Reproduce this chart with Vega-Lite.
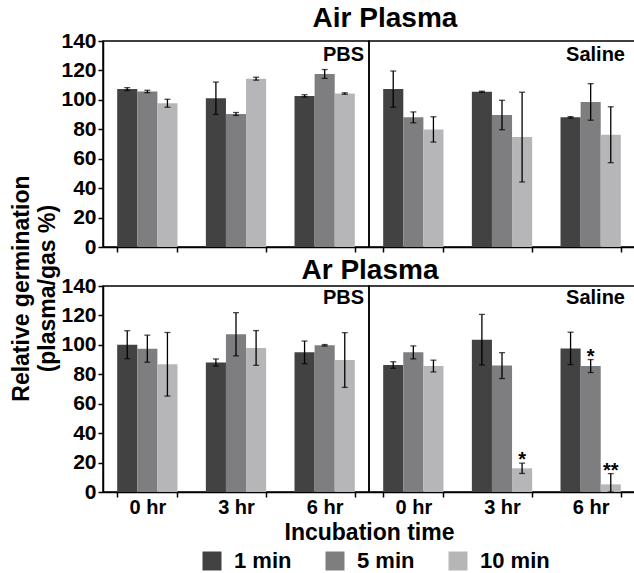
{
  "$schema": "https://vega.github.io/schema/vega-lite/v6.json",
  "padding": {"left": 10, "top": 5, "right": 0, "bottom": 0},
  "background": "white",
  "data": {"values": [
    {"gas":"Air","medium":"PBS","time":"0 hr","dur":"1 min","mean":107.3,"lo":106.3,"hi":108.3},
    {"gas":"Air","medium":"PBS","time":"0 hr","dur":"5 min","mean":105.7,"lo":104.9,"hi":106.5},
    {"gas":"Air","medium":"PBS","time":"0 hr","dur":"10 min","mean":97.7,"lo":95.0,"hi":100.4},
    {"gas":"Air","medium":"PBS","time":"3 hr","dur":"1 min","mean":101.1,"lo":90.1,"hi":112.1},
    {"gas":"Air","medium":"PBS","time":"3 hr","dur":"5 min","mean":90.4,"lo":89.4,"hi":91.4},
    {"gas":"Air","medium":"PBS","time":"3 hr","dur":"10 min","mean":114.4,"lo":113.4,"hi":115.4},
    {"gas":"Air","medium":"PBS","time":"6 hr","dur":"1 min","mean":102.7,"lo":101.9,"hi":103.5},
    {"gas":"Air","medium":"PBS","time":"6 hr","dur":"5 min","mean":117.6,"lo":114.6,"hi":120.6},
    {"gas":"Air","medium":"PBS","time":"6 hr","dur":"10 min","mean":104.3,"lo":103.8,"hi":104.8},
    {"gas":"Air","medium":"Saline","time":"0 hr","dur":"1 min","mean":107.3,"lo":95.0,"hi":119.6},
    {"gas":"Air","medium":"Saline","time":"0 hr","dur":"5 min","mean":88.1,"lo":84.4,"hi":91.8},
    {"gas":"Air","medium":"Saline","time":"0 hr","dur":"10 min","mean":79.9,"lo":71.3,"hi":88.5},
    {"gas":"Air","medium":"Saline","time":"3 hr","dur":"1 min","mean":105.5,"lo":105.1,"hi":105.9},
    {"gas":"Air","medium":"Saline","time":"3 hr","dur":"5 min","mean":89.7,"lo":79.7,"hi":99.7},
    {"gas":"Air","medium":"Saline","time":"3 hr","dur":"10 min","mean":74.7,"lo":44.2,"hi":105.2},
    {"gas":"Air","medium":"Saline","time":"6 hr","dur":"1 min","mean":88.1,"lo":87.6,"hi":88.6},
    {"gas":"Air","medium":"Saline","time":"6 hr","dur":"5 min","mean":98.6,"lo":86.2,"hi":111.0},
    {"gas":"Air","medium":"Saline","time":"6 hr","dur":"10 min","mean":76.3,"lo":57.3,"hi":95.3},
    {"gas":"Ar","medium":"PBS","time":"0 hr","dur":"1 min","mean":100.1,"lo":90.6,"hi":109.6},
    {"gas":"Ar","medium":"PBS","time":"0 hr","dur":"5 min","mean":97.4,"lo":88.2,"hi":106.6},
    {"gas":"Ar","medium":"PBS","time":"0 hr","dur":"10 min","mean":86.8,"lo":65.2,"hi":108.4},
    {"gas":"Ar","medium":"PBS","time":"3 hr","dur":"1 min","mean":88.0,"lo":85.6,"hi":90.4},
    {"gas":"Ar","medium":"PBS","time":"3 hr","dur":"5 min","mean":107.2,"lo":92.5,"hi":121.9},
    {"gas":"Ar","medium":"PBS","time":"3 hr","dur":"10 min","mean":97.9,"lo":86.1,"hi":109.7},
    {"gas":"Ar","medium":"PBS","time":"6 hr","dur":"1 min","mean":94.9,"lo":87.2,"hi":102.6},
    {"gas":"Ar","medium":"PBS","time":"6 hr","dur":"5 min","mean":99.7,"lo":99.2,"hi":100.2},
    {"gas":"Ar","medium":"PBS","time":"6 hr","dur":"10 min","mean":89.7,"lo":71.1,"hi":108.3},
    {"gas":"Ar","medium":"Saline","time":"0 hr","dur":"1 min","mean":86.3,"lo":84.1,"hi":88.5},
    {"gas":"Ar","medium":"Saline","time":"0 hr","dur":"5 min","mean":94.9,"lo":90.5,"hi":99.3},
    {"gas":"Ar","medium":"Saline","time":"0 hr","dur":"10 min","mean":85.6,"lo":81.6,"hi":89.6},
    {"gas":"Ar","medium":"Saline","time":"3 hr","dur":"1 min","mean":103.5,"lo":86.3,"hi":120.7},
    {"gas":"Ar","medium":"Saline","time":"3 hr","dur":"5 min","mean":85.9,"lo":77.1,"hi":94.7},
    {"gas":"Ar","medium":"Saline","time":"3 hr","dur":"10 min","mean":16.1,"lo":12.6,"hi":19.6,"sig":"*"},
    {"gas":"Ar","medium":"Saline","time":"6 hr","dur":"1 min","mean":97.6,"lo":86.6,"hi":108.6},
    {"gas":"Ar","medium":"Saline","time":"6 hr","dur":"5 min","mean":85.6,"lo":81.2,"hi":90.0,"sig":"*"},
    {"gas":"Ar","medium":"Saline","time":"6 hr","dur":"10 min","mean":5.2,"lo":0,"hi":12.5,"sig":"**"}
  ]},
  "title": {"text": ["Relative germination", "(plasma/gas %)"], "orient": "left", "anchor": "middle", "fontSize": 23, "fontWeight": "bold", "lineHeight": 26.5, "offset": 0, "color": "black"},
  "spacing": -1,
  "vconcat": [
    {
      "title": {"text": "Air Plasma", "anchor": "middle", "offset": -4, "fontSize": 28, "dx": 37},
      "bounds": "flush",
      "spacing": 0,
      "hconcat": [
        {
          "width": 266, "height": 206,
          "title": {"text": "PBS", "frame": "group", "anchor": "end", "offset": -35, "dx": -5, "fontSize": 20},
          "transform": [{"filter": "datum.gas == 'Air' && datum.medium == 'PBS'"}],
          "encoding": {
            "x": {"field": "time", "type": "nominal", "sort": ["0 hr","3 hr","6 hr"], "scale": {"paddingInner": 0.32, "paddingOuter": 0.16}, "axis": {"labels": false, "title": null, "tickBand": "extent", "tickSize": 5}},
            "xOffset": {"field": "dur", "type": "nominal", "sort": ["1 min","5 min","10 min"], "scale": {"paddingInner": 0, "paddingOuter": 0}}
          },
          "layer": [
            {"mark": "bar", "encoding": {
              "y": {"field": "mean", "type": "quantitative", "scale": {"domain": [0, 140]}, "axis": {"values": [0,20,40,60,80,100,120,140], "labelOverlap": false, "title": null, "tickSize": 5, "labelPadding": 2}},
              "color": {"field": "dur", "type": "nominal", "sort": ["1 min","5 min","10 min"], "scale": {"domain": ["1 min","5 min","10 min"], "range": ["#424242","#7e7e80","#b6b6b8"]}, "legend": {"orient": "none", "legendX": 98, "legendY": 509, "direction": "horizontal", "title": null}}
            }},
            {"mark": {"type": "rule", "color": "black", "strokeWidth": 1.3}, "encoding": {"y": {"field": "lo", "type": "quantitative", "axis": {"values": [0,20,40,60,80,100,120,140], "labelOverlap": false, "title": null, "tickSize": 5, "labelPadding": 2}}, "y2": {"field": "hi"}}},
            {"mark": {"type": "tick", "orient": "horizontal", "color": "black", "size": 6, "thickness": 1.3}, "encoding": {"y": {"field": "hi", "type": "quantitative", "axis": {"values": [0,20,40,60,80,100,120,140], "labelOverlap": false, "title": null, "tickSize": 5, "labelPadding": 2}}}},
            {"mark": {"type": "tick", "orient": "horizontal", "color": "black", "size": 6, "thickness": 1.3}, "encoding": {"y": {"field": "lo", "type": "quantitative", "axis": {"values": [0,20,40,60,80,100,120,140], "labelOverlap": false, "title": null, "tickSize": 5, "labelPadding": 2}}}}
          ]
        },
        {
          "width": 266, "height": 206,
          "title": {"text": "Saline", "frame": "group", "anchor": "end", "offset": -24, "dx": -10, "fontSize": 20},
          "transform": [{"filter": "datum.gas == 'Air' && datum.medium == 'Saline'"}],
          "encoding": {
            "x": {"field": "time", "type": "nominal", "sort": ["0 hr","3 hr","6 hr"], "scale": {"paddingInner": 0.32, "paddingOuter": 0.16}, "axis": {"labels": false, "title": null, "tickBand": "extent", "tickSize": 5}},
            "xOffset": {"field": "dur", "type": "nominal", "sort": ["1 min","5 min","10 min"], "scale": {"paddingInner": 0, "paddingOuter": 0}}
          },
          "layer": [
            {"mark": "bar", "encoding": {
              "y": {"field": "mean", "type": "quantitative", "scale": {"domain": [0, 140]}, "axis": null},
              "color": {"field": "dur", "type": "nominal", "sort": ["1 min","5 min","10 min"], "scale": {"domain": ["1 min","5 min","10 min"], "range": ["#424242","#7e7e80","#b6b6b8"]}, "legend": {"orient": "none", "legendX": 98, "legendY": 509, "direction": "horizontal", "title": null}}
            }},
            {"mark": {"type": "rule", "color": "black", "strokeWidth": 1.3}, "encoding": {"y": {"field": "lo", "type": "quantitative", "axis": null}, "y2": {"field": "hi"}}},
            {"mark": {"type": "tick", "orient": "horizontal", "color": "black", "size": 6, "thickness": 1.3}, "encoding": {"y": {"field": "hi", "type": "quantitative", "axis": null}}},
            {"mark": {"type": "tick", "orient": "horizontal", "color": "black", "size": 6, "thickness": 1.3}, "encoding": {"y": {"field": "lo", "type": "quantitative", "axis": null}}}
          ]
        }
      ]
    },
    {
      "title": {"text": "Ar Plasma", "anchor": "middle", "offset": -11, "fontSize": 28, "dx": 22},
      "bounds": "flush",
      "spacing": 0,
      "hconcat": [
        {
          "width": 266, "height": 206,
          "title": {"text": "PBS", "frame": "group", "anchor": "end", "offset": -33, "dx": -5, "fontSize": 20},
          "transform": [{"filter": "datum.gas == 'Ar' && datum.medium == 'PBS'"}],
          "encoding": {
            "x": {"field": "time", "type": "nominal", "sort": ["0 hr","3 hr","6 hr"], "scale": {"paddingInner": 0.32, "paddingOuter": 0.16}, "axis": {"labelAngle": 0, "title": null, "tickBand": "extent", "tickSize": 5, "labelPadding": 0}},
            "xOffset": {"field": "dur", "type": "nominal", "sort": ["1 min","5 min","10 min"], "scale": {"paddingInner": 0, "paddingOuter": 0}}
          },
          "layer": [
            {"mark": "bar", "encoding": {
              "y": {"field": "mean", "type": "quantitative", "scale": {"domain": [0, 140]}, "axis": {"values": [0,20,40,60,80,100,120,140], "labelOverlap": false, "title": null, "tickSize": 5, "labelPadding": 2}},
              "color": {"field": "dur", "type": "nominal", "sort": ["1 min","5 min","10 min"], "scale": {"domain": ["1 min","5 min","10 min"], "range": ["#424242","#7e7e80","#b6b6b8"]}, "legend": {"orient": "none", "legendX": 98, "legendY": 509, "direction": "horizontal", "title": null}}
            }},
            {"mark": {"type": "rule", "color": "black", "strokeWidth": 1.3}, "encoding": {"y": {"field": "lo", "type": "quantitative", "axis": {"values": [0,20,40,60,80,100,120,140], "labelOverlap": false, "title": null, "tickSize": 5, "labelPadding": 2}}, "y2": {"field": "hi"}}},
            {"mark": {"type": "tick", "orient": "horizontal", "color": "black", "size": 6, "thickness": 1.3}, "encoding": {"y": {"field": "hi", "type": "quantitative", "axis": {"values": [0,20,40,60,80,100,120,140], "labelOverlap": false, "title": null, "tickSize": 5, "labelPadding": 2}}}},
            {"mark": {"type": "tick", "orient": "horizontal", "color": "black", "size": 6, "thickness": 1.3}, "encoding": {"y": {"field": "lo", "type": "quantitative", "axis": {"values": [0,20,40,60,80,100,120,140], "labelOverlap": false, "title": null, "tickSize": 5, "labelPadding": 2}}}}
          ]
        },
        {
          "width": 266, "height": 206,
          "title": {"text": "Saline", "frame": "group", "anchor": "end", "offset": -22, "dx": -10, "fontSize": 20},
          "transform": [{"filter": "datum.gas == 'Ar' && datum.medium == 'Saline'"}],
          "encoding": {
            "x": {"field": "time", "type": "nominal", "sort": ["0 hr","3 hr","6 hr"], "scale": {"paddingInner": 0.32, "paddingOuter": 0.16}, "axis": {"labelAngle": 0, "title": "Incubation time", "titleX": 0, "titleAlign": "center", "titleBaseline": "alphabetic", "titleY": 47, "tickBand": "extent", "tickSize": 5, "labelPadding": 0}},
            "xOffset": {"field": "dur", "type": "nominal", "sort": ["1 min","5 min","10 min"], "scale": {"paddingInner": 0, "paddingOuter": 0}}
          },
          "layer": [
            {"mark": "bar", "encoding": {
              "y": {"field": "mean", "type": "quantitative", "scale": {"domain": [0, 140]}, "axis": null},
              "color": {"field": "dur", "type": "nominal", "sort": ["1 min","5 min","10 min"], "scale": {"domain": ["1 min","5 min","10 min"], "range": ["#424242","#7e7e80","#b6b6b8"]}, "legend": {"orient": "none", "legendX": 98, "legendY": 509, "direction": "horizontal", "title": null}}
            }},
            {"mark": {"type": "rule", "color": "black", "strokeWidth": 1.3}, "encoding": {"y": {"field": "lo", "type": "quantitative", "axis": null}, "y2": {"field": "hi"}}},
            {"mark": {"type": "tick", "orient": "horizontal", "color": "black", "size": 6, "thickness": 1.3}, "encoding": {"y": {"field": "hi", "type": "quantitative", "axis": null}}},
            {"mark": {"type": "tick", "orient": "horizontal", "color": "black", "size": 6, "thickness": 1.3}, "encoding": {"y": {"field": "lo", "type": "quantitative", "axis": null}}},
            {"transform": [{"filter": "datum.sig"}], "mark": {"type": "text", "fontSize": 20, "fontWeight": "bold", "color": "black", "baseline": "alphabetic", "dy": 3}, "encoding": {"y": {"field": "hi", "type": "quantitative", "axis": null}, "text": {"field": "sig"}}}
          ]
        }
      ]
    }
  ],
  "config": {
    "font": "Liberation Sans",
    "view": {"stroke": "black", "strokeWidth": 1.5},
    "axis": {"labelFontWeight": "bold", "labelFontSize": 20, "labelColor": "black", "domainColor": "black", "tickColor": "black", "domainWidth": 1.5, "tickWidth": 1.5, "grid": false, "titleFontWeight": "bold", "titleFontSize": 23, "titleColor": "black"},
    "axisY": {"labelFontSize": 21},
    "title": {"fontWeight": "bold", "color": "black"},
    "legend": {"symbolType": "square", "symbolSize": 361, "symbolStrokeWidth": 0, "labelFontSize": 22, "labelFontWeight": "bold", "labelColor": "black", "labelOffset": 11, "columnPadding": 32, "labelLimit": 200}
  }
}
